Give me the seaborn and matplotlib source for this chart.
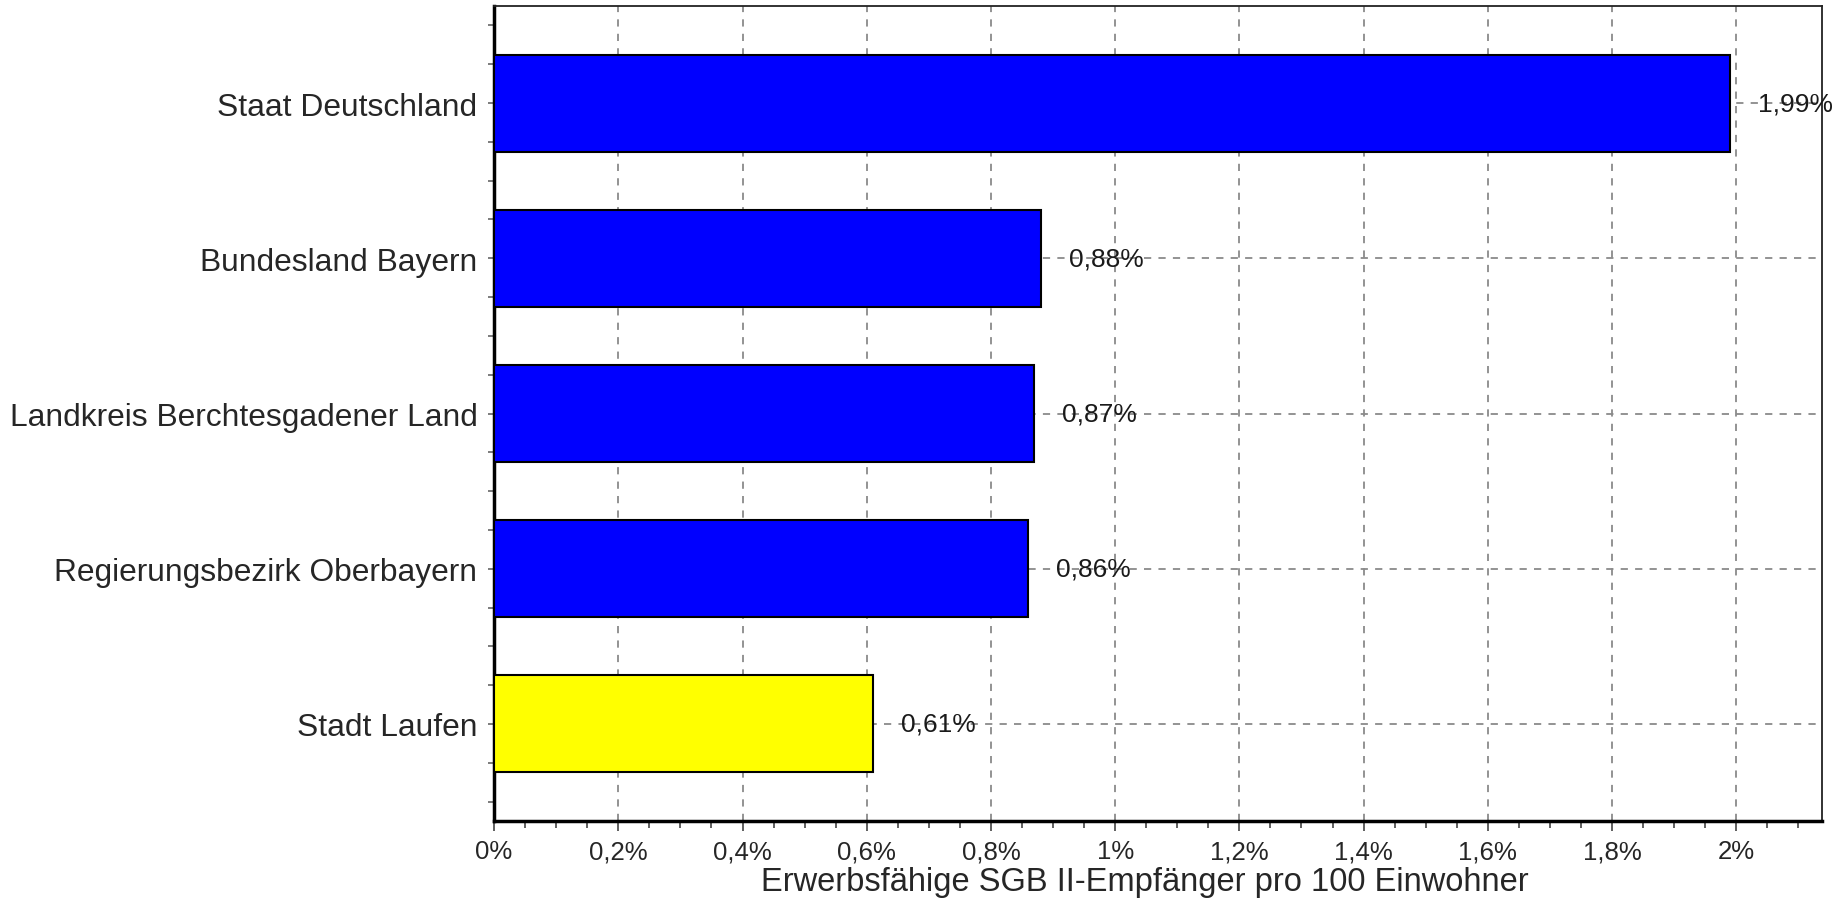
import numpy as np
import pandas as pd
import matplotlib as mpl
import matplotlib.pyplot as plt
import seaborn as sns
from matplotlib.ticker import FuncFormatter, MultipleLocator

# Werte aus der Grafik
regionen = ["Staat Deutschland", "Bundesland Bayern", "Landkreis Berchtesgadener Land",
            "Regierungsbezirk Oberbayern", "Stadt Laufen"]
werte = [1.99, 0.88, 0.87, 0.86, 0.61]
farben = ["#0000ff", "#0000ff", "#0000ff", "#0000ff", "#ffff00"]
x_label = "Erwerbsfähige SGB II-Empfänger pro 100 Einwohner"

sns.set_style("white")
plt.rcParams['font.family'] = ['Liberation Sans', 'DejaVu Sans']

df = pd.DataFrame({"Region": regionen, "Wert": werte})

fig = plt.figure(figsize=(18.45, 9.03), dpi=100)
ax = fig.add_axes([0.2678, 0.0897, 0.7197, 0.9025])

sns.barplot(data=df, x="Wert", y="Region", hue="Region", palette=farben,
            width=0.625, edgecolor="black", linewidth=1.5, legend=False,
            saturation=1, ax=ax, zorder=3)

ax.set_xlim(0, 2.138)
ax.set_ylim(len(regionen) - 0.375, -0.625)

def fmt(v, pos):
    return ("%g" % round(v, 2)).replace('.', ',') + '%'

ax.xaxis.set_major_locator(MultipleLocator(0.2))
ax.xaxis.set_minor_locator(MultipleLocator(0.05))
ax.xaxis.set_major_formatter(FuncFormatter(fmt))
ax.yaxis.set_minor_locator(MultipleLocator(0.25))

ax.grid(True, which='major', axis='both', linestyle=(0, (4, 4)), color='#8a8a8a', linewidth=1.3)
ax.set_axisbelow(True)

# Wertbeschriftungen
for i, v in enumerate(werte):
    ax.text(v + 0.045, i, fmt(v, None), ha='left', va='center', fontsize=19,
            color='#1a1a1a', zorder=5)

ax.tick_params(axis='x', which='major', direction='out', length=7, width=1.2,
               color='#444444', labelsize=18.6, pad=6, bottom=True)
ax.tick_params(axis='x', which='minor', direction='out', length=5, width=1.2,
               color='#444444', bottom=True)
ax.tick_params(axis='y', which='both', direction='out', length=4, width=1.2,
               color='#666666', labelsize=22.9, pad=8, left=True)

for s in ['left', 'bottom']:
    ax.spines[s].set_linewidth(2.5)
    ax.spines[s].set_color('black')
for s in ['top', 'right']:
    ax.spines[s].set_linewidth(1.3)
    ax.spines[s].set_color('#222222')

ax.set_ylabel("")
ax.set_xlabel(x_label, fontsize=23.5, va='center')
ax.xaxis.set_label_coords(0.49, -0.074)

plt.savefig("out.png", dpi=100)
